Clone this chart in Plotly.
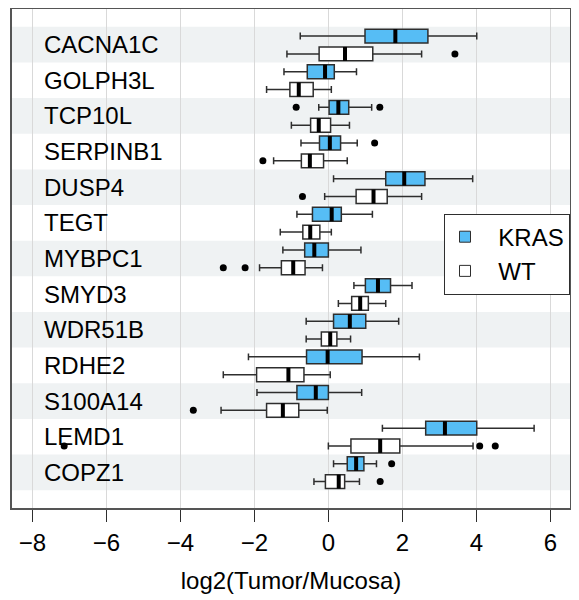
import plotly.graph_objects as go

genes = ["CACNA1C", "GOLPH3L", "TCP10L", "SERPINB1", "DUSP4", "TEGT", "MYBPC1",
         "SMYD3", "WDR51B", "RDHE2", "S100A14", "LEMD1", "COPZ1"]

# KRAS group statistics
kras_low = [-0.76, -1.20, -0.26, -0.74, 0.14, -0.85, -1.23, 0.69, -0.60, -2.16, -1.93, 1.46, 0.14]
kras_q1 = [0.99, -0.57, 0.02, -0.24, 1.55, -0.43, -0.64, 1.00, 0.14, -0.59, -0.85, 2.63, 0.51]
kras_med = [1.81, -0.09, 0.27, 0.04, 2.05, 0.09, -0.38, 1.34, 0.58, -0.02, -0.34, 3.15, 0.75]
kras_q3 = [2.69, 0.16, 0.55, 0.33, 2.61, 0.35, 0.00, 1.68, 1.01, 0.91, 0.00, 4.01, 0.96]
kras_high = [4.01, 0.76, 1.17, 0.78, 3.90, 1.19, 0.88, 2.26, 1.90, 2.46, 0.90, 5.56, 1.30]
kras_outliers = [[], [], [-0.87, 1.39], [1.25], [], [], [], [], [], [], [], [], [1.71]]

# WT group statistics
wt_low = [-1.12, -1.67, -1.00, -1.48, -0.10, -1.30, -1.86, 0.27, -0.60, -2.84, -2.90, 0.00, -0.39]
wt_q1 = [-0.25, -1.04, -0.48, -0.73, 0.75, -0.69, -1.27, 0.63, -0.19, -1.94, -1.67, 0.61, -0.08]
wt_med = [0.45, -0.80, -0.26, -0.50, 1.22, -0.49, -0.95, 0.86, 0.05, -1.08, -1.23, 1.40, 0.28]
wt_q3 = [1.20, -0.41, 0.06, -0.13, 1.59, -0.23, -0.63, 1.08, 0.23, -0.66, -0.80, 1.93, 0.44]
wt_high = [2.52, 0.08, 0.57, 0.51, 2.52, 0.08, -0.16, 1.55, 0.60, 0.05, -0.03, 3.91, 0.84]
wt_outliers = [[3.42], [], [], [-1.77], [-0.70], [], [-2.84, -2.25], [], [], [], [-3.65],
               [-7.14, 4.09, 4.51], [1.40]]

x_ticks = [-8, -6, -4, -2, 0, 2, 4, 6]
legend_names = ["KRAS", "WT"]

KRAS_COLOR = "#56BDF5"
EDGE = "#2E2E2E"
FONT = "Liberation Sans, Arial, Helvetica, sans-serif"
BOX_W = 0.39
OFF_K = -0.24
OFF_W = 0.26

idx = list(range(len(genes)))
pos_k = [i + OFF_K for i in idx]
pos_w = [i + OFF_W for i in idx]

fig = go.Figure()

def add_group(pos, low, q1, med, q3, high, outl, fill):
    fig.add_trace(go.Box(
        orientation="h", y=pos, q1=q1, median=med, q3=q3,
        lowerfence=low, upperfence=high, width=BOX_W,
        fillcolor=fill, line=dict(color=EDGE, width=1.5),
        whiskerwidth=0.5, boxpoints=False, showlegend=False, hoverinfo="skip"))
    mx, my = [], []
    for p, m in zip(pos, med):
        mx += [m, m, None]
        my += [p - BOX_W / 2, p + BOX_W / 2, None]
    fig.add_trace(go.Scatter(x=mx, y=my, mode="lines",
                             line=dict(color="black", width=4),
                             showlegend=False, hoverinfo="skip"))
    ox, oy = [], []
    for p, vals in zip(pos, outl):
        for v in vals:
            ox.append(v)
            oy.append(p)
    fig.add_trace(go.Scatter(x=ox, y=oy, mode="markers",
                             marker=dict(color="black", size=7),
                             showlegend=False, hoverinfo="skip"))

add_group(pos_k, kras_low, kras_q1, kras_med, kras_q3, kras_high, kras_outliers, KRAS_COLOR)
add_group(pos_w, wt_low, wt_q1, wt_med, wt_q3, wt_high, wt_outliers, "white")

# legend entries
for name, col in zip(legend_names, [KRAS_COLOR, "white"]):
    fig.add_trace(go.Scatter(x=[None], y=[None], mode="markers",
                             name="\u00a0\u00a0" + name,
                             marker=dict(symbol="square", size=11, color=col,
                                         line=dict(color=EDGE, width=1))))

shapes = []
for i in idx:
    if i % 2 == 0:
        shapes.append(dict(type="rect", xref="x domain", yref="y",
                           x0=0, x1=1, y0=i - 0.5, y1=i + 0.5,
                           fillcolor="#EFF2F3", line=dict(width=0), layer="below"))

annotations = []
for i, g in enumerate(genes):
    annotations.append(dict(x=-7.75, y=i, xref="x", yref="y", text=g,
                            showarrow=False, xanchor="left", yanchor="middle",
                            font=dict(size=24, color="black", family=FONT)))

# the page body adds an 8px offset, so the figure is sized to fit the window
fig.update_layout(
    width=571, height=592,
    margin=dict(l=4, r=9, t=1, b=92),
    paper_bgcolor="white", plot_bgcolor="white",
    font=dict(family=FONT, color="black", size=24),
    shapes=shapes, annotations=annotations,
    showlegend=True,
    legend=dict(x=1, xanchor="right", y=0.59, yanchor="top",
                bgcolor="white", bordercolor=EDGE, borderwidth=1,
                font=dict(size=24, family=FONT), itemsizing="trace",
                entrywidth=132, tracegroupgap=0),
)
fig.update_xaxes(range=[-8.55, 6.53], tickvals=x_ticks, ticks="outside", ticklen=12,
                 tickcolor=EDGE, tickwidth=1.2, showgrid=True, gridcolor="#D9D9D9",
                 gridwidth=1, zeroline=False, showline=True, mirror=True,
                 linecolor="#555555", linewidth=1.5, automargin=False,
                 tickfont=dict(size=24, family=FONT),
                 title=dict(text="log2(Tumor/Mucosa)", font=dict(size=24, family=FONT),
                            standoff=18))
fig.update_yaxes(range=[13, -1], showticklabels=False, ticks="", showgrid=False,
                 zeroline=False, showline=True, mirror=True, automargin=False,
                 linecolor="#555555", linewidth=1.5)

fig.write_html("out.html")
